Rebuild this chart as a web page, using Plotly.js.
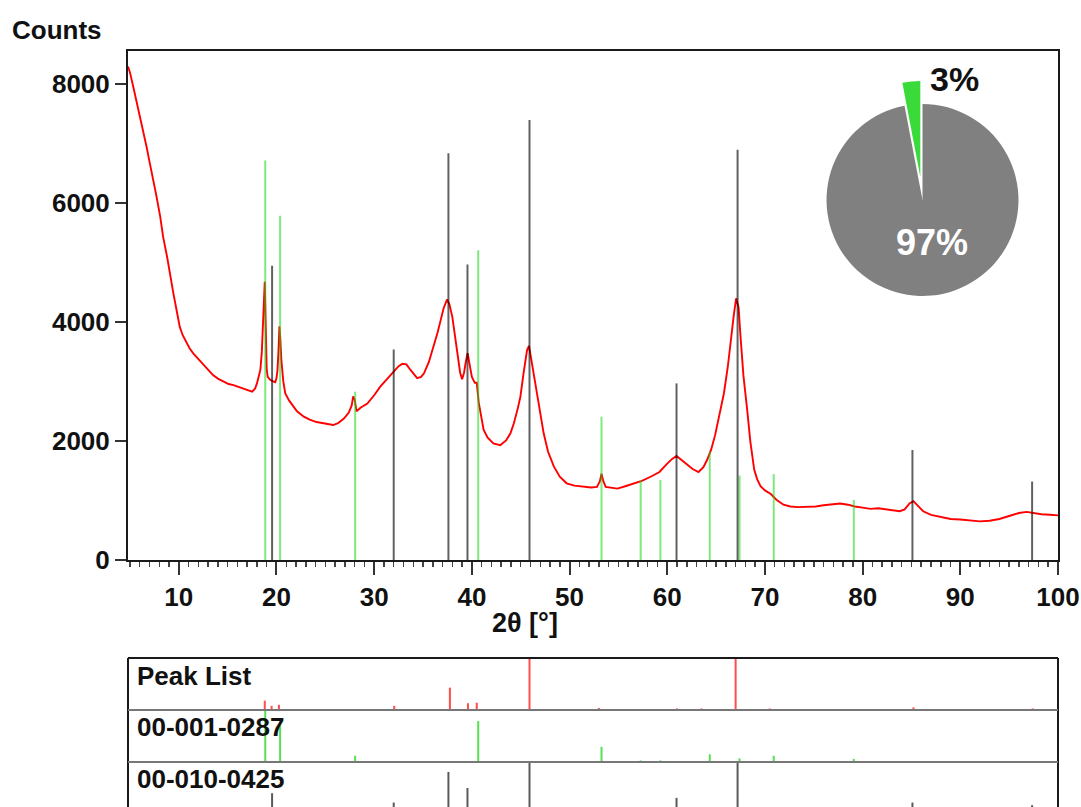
<!DOCTYPE html>
<html>
<head>
<meta charset="utf-8">
<script src="https://cdn.plot.ly/plotly-3.0.1.min.js"></script>
<style>
  html, body { margin: 0; padding: 0; background: #ffffff; }
  #chart { width: 1081px; height: 807px; }
</style>
</head>
<body>
<div id="chart"></div>
<script>
// Measured diffractogram: 2θ in degrees and intensity in counts
const twoTheta = [4.8, 5.0, 5.35, 5.7, 6.0, 6.4, 6.7, 7.0, 7.4, 7.7, 8.1, 8.4, 8.8, 9.1, 9.45, 9.8, 10.1, 10.4, 10.8, 11.1,
  11.5, 12.0, 12.5, 13.0, 13.5, 14.0, 14.6, 15.1, 15.6, 16.1, 16.6, 17.1, 17.5, 17.8, 18.0, 18.2, 18.35, 18.5, 18.6, 18.7,
  18.8, 18.9, 19.0, 19.1, 19.35, 19.6, 19.87, 20.0, 20.1, 20.2, 20.3, 20.4, 20.5, 20.7, 20.9, 21.3, 21.7, 22.1, 22.8, 23.4,
  24.1, 24.8, 25.3, 25.8, 26.3, 26.9, 27.4, 27.7, 27.85, 28.0, 28.2, 28.6, 29.3, 30.0, 30.6, 31.3, 32.0, 32.5, 32.9, 33.3,
  33.7, 34.1, 34.4, 34.8, 35.1, 35.6, 36.1, 36.5, 36.8, 37.1, 37.45, 37.7, 38.0, 38.2, 38.5, 38.8, 39.0, 39.2, 39.4, 39.57,
  39.8, 40.0, 40.3, 40.5, 40.7, 41.0, 41.2, 41.6, 42.2, 42.9, 43.5, 43.95, 44.3, 44.7, 44.97, 45.3, 45.65, 45.85, 46.0, 46.2,
  46.45, 46.7, 47.0, 47.35, 47.8, 48.4, 49.0, 49.7, 50.5, 51.4, 52.2, 52.8, 53.1, 53.27, 53.45, 53.7, 54.3, 54.9, 55.7, 56.6,
  57.4, 58.3, 59.2, 60.0, 60.5, 60.95, 61.5, 62.05, 62.6, 63.2, 63.7, 64.1, 64.5, 64.9, 65.3, 65.8, 66.2, 66.5, 66.8, 67.05,
  67.3, 67.5, 67.8, 68.2, 68.5, 68.9, 69.2, 69.55, 70.0, 70.6, 71.2, 71.9, 72.6, 73.4, 74.3, 75.2, 76.0, 76.8, 77.7, 78.5,
  79.2, 80.0, 80.8, 81.6, 82.4, 83.2, 83.8, 84.3, 84.8, 85.2, 85.6, 86.2, 87.0, 88.0, 89.0, 90.0, 91.0, 92.0, 93.0, 94.0,
  95.0, 96.0, 96.8, 97.5, 98.3, 99.2, 100.0];
const counts = [8300, 8200, 7950, 7700, 7450, 7200, 6950, 6700, 6390, 6130, 5770, 5430, 5100, 4800, 4480, 4180, 3920, 3780, 3640, 3560,
  3470, 3380, 3280, 3200, 3110, 3050, 3000, 2960, 2940, 2910, 2880, 2850, 2830, 2880, 2970, 3100, 3200, 3500, 3810, 4300,
  4680, 4100, 3200, 3080, 3030, 3010, 2990, 3060, 3190, 3500, 3930, 3700, 3360, 3000, 2800, 2680, 2580, 2500, 2410, 2360,
  2320, 2300, 2280, 2270, 2300, 2380, 2480, 2600, 2750, 2700, 2500, 2560, 2630, 2770, 2910, 3040, 3170, 3260, 3300, 3290,
  3200, 3110, 3060, 3080, 3140, 3330, 3590, 3830, 4030, 4230, 4380, 4300, 4090, 3850, 3420, 3150, 3040, 3150, 3350, 3480,
  3260, 3080, 2980, 2980, 2650, 2330, 2190, 2060, 1960, 1930, 2010, 2130, 2300, 2550, 2750, 3150, 3530, 3600, 3450, 3200,
  2980, 2750, 2430, 2130, 1820, 1570, 1400, 1290, 1250, 1230, 1220, 1230, 1320, 1450, 1330, 1230, 1210, 1200, 1240, 1290,
  1330, 1400, 1480, 1620, 1700, 1750, 1680, 1600, 1530, 1480, 1560, 1690, 1860, 2100, 2420, 2800, 3250, 3700, 4100, 4400,
  4250, 3760, 3100, 2500, 2000, 1520, 1360, 1240, 1170, 1110, 1010, 930, 900, 890, 890, 900, 920, 940, 950, 930,
  900, 880, 860, 870, 850, 830, 820, 850, 950, 990, 920, 820, 760, 720, 690, 680, 660, 650, 660, 690,
  740, 790, 810, 790, 770, 760, 750];

// Reference pattern 00-001-0287 (green): positions, drawn height, relative intensity
const refGreenPos  = [18.85, 20.37, 28.05, 40.65, 53.27, 57.28, 59.3, 64.35, 67.4, 70.9, 79.1];
const refGreenMain = [6720, 5790, 2830, 5210, 2410, 1340, 1345, 1820, 1420, 1445, 1010];
const refGreenRel  = [100, 79, 12, 79, 29, 3, 3, 15, 7, 12, 6];

// Reference pattern 00-010-0425 (grey)
const refGreyPos  = [19.55, 32.0, 37.6, 39.55, 45.9, 60.95, 67.2, 85.1, 97.35];
const refGreyMain = [4950, 3540, 6840, 4970, 7400, 2970, 6900, 1850, 1320];
const refGreyRel  = [40, 22, 81, 50, 100, 31, 100, 22, 17];

// Peak list found on the measurement (relative heights)
const peakPos = [18.8, 19.5, 20.25, 32.05, 37.75, 39.6, 40.5, 45.9, 53.0, 61.0, 63.5, 67.0, 70.5, 85.2, 97.4];
const peakRel = [18, 8, 10, 8, 43, 13, 14, 100, 4, 3, 3, 100, 3, 5, 3];

// Phase fractions
const phaseLabels = ['00-001-0287', '00-010-0425'];
const phaseShare  = [3, 97];

const rowLabels = ['Peak List', '00-001-0287', '00-010-0425'];
const xTickVals = [10, 20, 30, 40, 50, 60, 70, 80, 90, 100];
const yTickVals = [0, 2000, 4000, 6000, 8000];

// Turn positions/heights into vertical sticks separated by gaps
function sticks(pos, h) {
  const x = [], y = [];
  pos.forEach((p, i) => { x.push(p, p, null); y.push(0, h[i], null); });
  return { x, y };
}

const FONT = 'Liberation Sans, Arial, sans-serif';
const X0 = 128 / 1081, X1 = 1058 / 1081;
const py = v => (807 - v) / 807;   // pixel row -> paper fraction

const gMain = sticks(refGreenPos, refGreenMain);
const kMain = sticks(refGreyPos, refGreyMain);
const pRow = sticks(peakPos, peakRel);
const gRow = sticks(refGreenPos, refGreenRel);
const kRow = sticks(refGreyPos, refGreyRel);

// the small phase slice sits just left of 12 o'clock
const pieStart = -phaseShare[0] / 100 * 360;

const traces = [
  { type: 'scatter', mode: 'lines', x: twoTheta, y: counts, xaxis: 'x', yaxis: 'y',
    line: { color: '#ff0000', width: 1.9 }, hoverinfo: 'x+y' },
  { type: 'scatter', mode: 'lines', x: gMain.x, y: gMain.y, xaxis: 'x', yaxis: 'y',
    line: { color: 'rgba(20,215,20,0.55)', width: 2 }, hoverinfo: 'skip' },
  { type: 'scatter', mode: 'lines', x: kMain.x, y: kMain.y, xaxis: 'x', yaxis: 'y',
    line: { color: 'rgba(0,0,0,0.62)', width: 2 }, hoverinfo: 'skip' },
  { type: 'scatter', mode: 'lines', x: pRow.x, y: pRow.y, xaxis: 'x2', yaxis: 'y2',
    line: { color: '#ff4d4d', width: 2 }, hoverinfo: 'skip' },
  { type: 'scatter', mode: 'lines', x: gRow.x, y: gRow.y, xaxis: 'x2', yaxis: 'y3',
    line: { color: '#55e055', width: 2 }, hoverinfo: 'skip' },
  { type: 'scatter', mode: 'lines', x: kRow.x, y: kRow.y, xaxis: 'x2', yaxis: 'y4',
    line: { color: '#5a5a5a', width: 2 }, hoverinfo: 'skip' },
  { type: 'pie', values: phaseShare, labels: phaseLabels, sort: false, direction: 'clockwise',
    rotation: pieStart, pull: [0.24, 0], textinfo: 'none', hoverinfo: 'label+percent',
    marker: { colors: ['#3ada3a', '#808080'], line: { width: 0 } },
    domain: { x: [803.5 / 1081, 1041.5 / 1081], y: [py(319), py(81)] } }
];

const axisFont = { family: FONT, size: 26, color: '#111111', weight: 'bold' };

const layout = {
  width: 1081, height: 807, autosize: false,
  margin: { l: 0, r: 0, t: 0, b: 0, pad: 0 },
  paper_bgcolor: '#ffffff', plot_bgcolor: '#ffffff',
  showlegend: false,
  xaxis: {
    domain: [X0, X1], anchor: 'y', range: [4.8, 100],
    tickmode: 'array', tickvals: xTickVals, ticklabeloverflow: 'allow',
    ticks: 'outside', ticklen: 13, tickwidth: 2, tickcolor: '#333333',
    minor: { tickmode: 'linear', tick0: 0, dtick: 1, ticks: 'outside', ticklen: 5, tickwidth: 1.5, tickcolor: '#444444', showgrid: false },
    showline: true, linewidth: 2, linecolor: '#1a1a1a', mirror: true,
    showgrid: false, zeroline: false, tickfont: axisFont
  },
  yaxis: {
    domain: [py(560), py(51)], anchor: 'x', range: [0, 8560],
    tickmode: 'array', tickvals: yTickVals, ticklabeloverflow: 'allow',
    ticks: 'outside', ticklen: 11, tickwidth: 2, tickcolor: '#333333',
    showline: true, linewidth: 2, linecolor: '#1a1a1a', mirror: true,
    showgrid: false, zeroline: false, tickfont: axisFont
  },
  xaxis2: { domain: [X0, X1], anchor: 'y2', range: [4.8, 100], visible: false, showgrid: false, zeroline: false },
  yaxis2: { domain: [py(710), py(658)], anchor: 'x2', range: [0, 100], visible: false, showgrid: false, zeroline: false },
  yaxis3: { domain: [py(762), py(710)], anchor: 'x2', range: [0, 100], visible: false, showgrid: false, zeroline: false },
  yaxis4: { domain: [0, py(762)], anchor: 'x2', range: [13.5, 100], visible: false, showgrid: false, zeroline: false },
  shapes: [
    { type: 'line', xref: 'paper', yref: 'paper', x0: X0, x1: X1, y0: py(658), y1: py(658), line: { color: '#1a1a1a', width: 2 } },
    { type: 'line', xref: 'paper', yref: 'paper', x0: X0, x1: X0, y0: 0, y1: py(658), line: { color: '#1a1a1a', width: 2 } },
    { type: 'line', xref: 'paper', yref: 'paper', x0: X1, x1: X1, y0: 0, y1: py(658), line: { color: '#1a1a1a', width: 2 } },
    { type: 'line', xref: 'paper', yref: 'paper', x0: X0, x1: X1, y0: py(710), y1: py(710), line: { color: '#777777', width: 2 } },
    { type: 'line', xref: 'paper', yref: 'paper', x0: X0, x1: X1, y0: py(762), y1: py(762), line: { color: '#777777', width: 2 } }
  ],
  annotations: [
    { text: 'Counts', xref: 'paper', yref: 'paper', x: 10 / 1081, y: py(30), xanchor: 'left', yanchor: 'middle',
      showarrow: false, font: { family: FONT, size: 26, color: '#111111', weight: 'bold' } },
    { text: '2θ [°]', xref: 'paper', yref: 'paper', x: 525 / 1081, y: py(623), xanchor: 'center', yanchor: 'middle',
      showarrow: false, font: { family: FONT, size: 27, color: '#111111', weight: 'bold' } },
    { text: rowLabels[0], xref: 'paper', yref: 'paper', x: 135 / 1081, y: py(676), xanchor: 'left', yanchor: 'middle',
      showarrow: false, font: { family: FONT, size: 26, color: '#111111', weight: 'bold' } },
    { text: rowLabels[1], xref: 'paper', yref: 'paper', x: 135 / 1081, y: py(727), xanchor: 'left', yanchor: 'middle',
      showarrow: false, font: { family: FONT, size: 26, color: '#111111', weight: 'bold' } },
    { text: rowLabels[2], xref: 'paper', yref: 'paper', x: 135 / 1081, y: py(779), xanchor: 'left', yanchor: 'middle',
      showarrow: false, font: { family: FONT, size: 26, color: '#111111', weight: 'bold' } },
    { text: phaseShare[0] + '%', xref: 'paper', yref: 'paper', x: 954 / 1081, y: py(79), xanchor: 'center', yanchor: 'middle',
      showarrow: false, font: { family: FONT, size: 34, color: '#111111', weight: 'bold' } },
    { text: phaseShare[1] + '%', xref: 'paper', yref: 'paper', x: 932 / 1081, y: py(242), xanchor: 'center', yanchor: 'middle',
      showarrow: false, font: { family: FONT, size: 36, color: '#ffffff', weight: 'bold' } }
  ]
};

Plotly.newPlot('chart', traces, layout, { displayModeBar: false, staticPlot: true });
</script>
</body>
</html>
